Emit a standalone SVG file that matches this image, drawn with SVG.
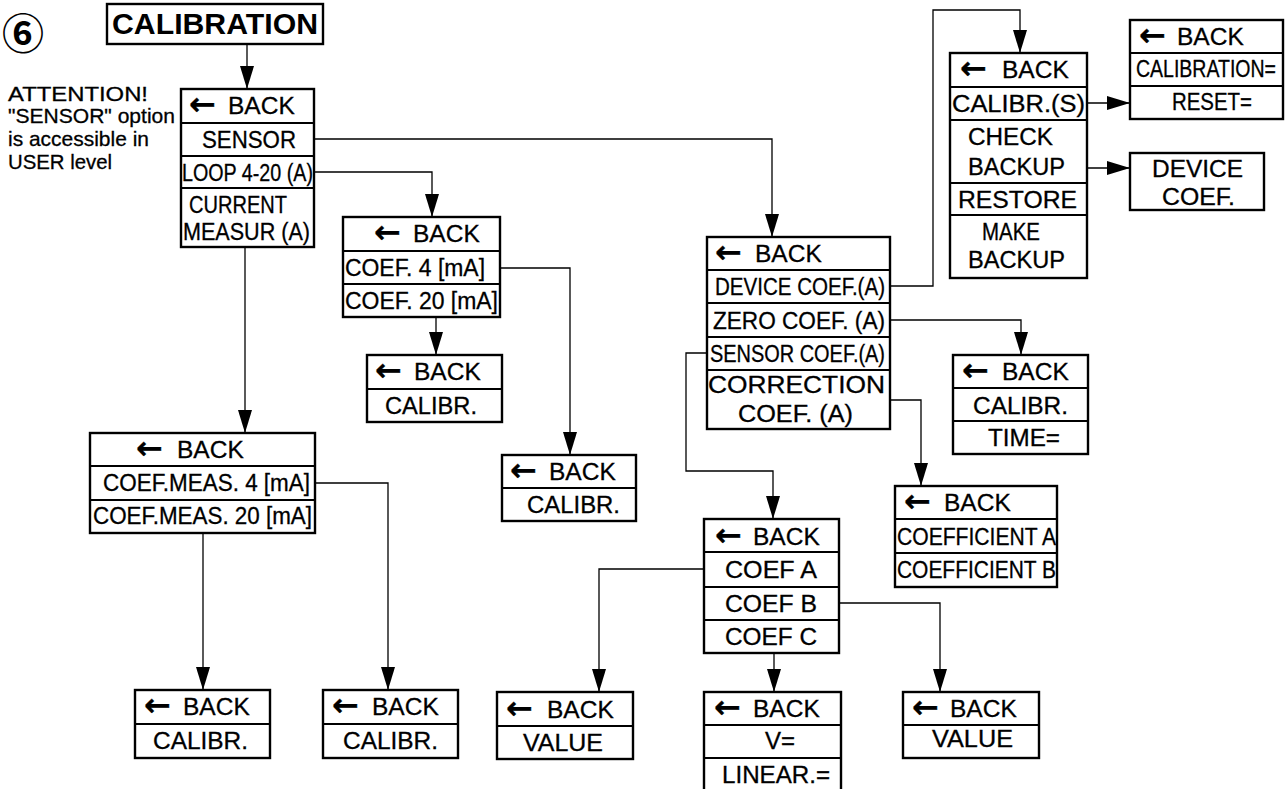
<svg xmlns="http://www.w3.org/2000/svg" width="1287" height="789" viewBox="0 0 1287 789">
<style>
  .box{fill:#fff;stroke:#000;stroke-width:2.4}
  .sep{stroke:#000;stroke-width:2}
  .t{font-family:"Liberation Sans",Arial,sans-serif;font-size:23.5px;fill:#000;stroke:#000;stroke-width:0.3}
  .b{font-family:"Liberation Sans",Arial,sans-serif;font-size:24.5px;fill:#000;stroke:#000;stroke-width:0.3}
  .ar{font-family:"DejaVu Sans",sans-serif;font-weight:bold;font-size:32px}
  .note{font-family:"Liberation Sans",Arial,sans-serif;font-size:21px;fill:#000;stroke:#000;stroke-width:0.3}
  .con{fill:none;stroke:#000;stroke-width:1.3}
</style>
<defs>
  <marker id="ah" markerUnits="userSpaceOnUse" markerWidth="24" markerHeight="16" refX="23" refY="7" orient="auto">
    <path d="M0,0 L23,7 L0,14 z" fill="#000"/>
  </marker>
</defs>
<rect width="1287" height="789" fill="#fff"/>

<g id="header">
  <text x="23" y="49" text-anchor="middle" font-family="Noto Sans CJK JP,DejaVu Sans,sans-serif" font-weight="bold" font-size="42">⑥</text>
  <text class="note" x="8" y="101" textLength="140" lengthAdjust="spacingAndGlyphs">ATTENTION!</text>
  <text class="note" x="8" y="123" textLength="167" lengthAdjust="spacingAndGlyphs">"SENSOR" option</text>
  <text class="note" x="8" y="146" textLength="141" lengthAdjust="spacingAndGlyphs">is accessible in</text>
  <text class="note" x="8" y="169" textLength="104" lengthAdjust="spacingAndGlyphs">USER level</text>
</g>

<g id="connectors">
  <path class="con" d="M247,44 V89" marker-end="url(#ah)"/>
  <path class="con" d="M314,139 H772 V237" marker-end="url(#ah)"/>
  <path class="con" d="M314,172 H432 V217" marker-end="url(#ah)"/>
  <path class="con" d="M245,247 V433" marker-end="url(#ah)"/>
  <path class="con" d="M436,317 V355" marker-end="url(#ah)"/>
  <path class="con" d="M500,268 H570 V455" marker-end="url(#ah)"/>
  <path class="con" d="M315,483 H388 V690" marker-end="url(#ah)"/>
  <path class="con" d="M203,533 V690" marker-end="url(#ah)"/>
  <path class="con" d="M890,286 H933 V10 H1020 V53" marker-end="url(#ah)"/>
  <path class="con" d="M1087,103 H1130" marker-end="url(#ah)"/>
  <path class="con" d="M1087,168 H1130" marker-end="url(#ah)"/>
  <path class="con" d="M890,320 H1021 V355" marker-end="url(#ah)"/>
  <path class="con" d="M707,353 H686 V471 H773 V519" marker-end="url(#ah)"/>
  <path class="con" d="M890,400 H921 V486" marker-end="url(#ah)"/>
  <path class="con" d="M704,569 H599 V692" marker-end="url(#ah)"/>
  <path class="con" d="M839,603 H940 V692" marker-end="url(#ah)"/>
  <path class="con" d="M774,653 V692" marker-end="url(#ah)"/>
</g>

<g id="title">
  <rect class="box" x="107" y="4" width="216" height="40" stroke-width="2.8"/>
  <text x="112" y="34" font-family="Liberation Sans,Arial,sans-serif" font-weight="bold" font-size="29" textLength="206" lengthAdjust="spacingAndGlyphs">CALIBRATION</text>
</g>

<g id="main-menu">
  <rect class="box" x="181" y="89" width="133" height="158"/>
  <path class="sep" d="M181,123 H314 M181,156 H314 M181,188 H314"/>
  <text class="b" x="189" y="115"><tspan class="ar">←</tspan><tspan x="228" y="114">BACK</tspan></text>
  <text class="t" x="202" y="148" textLength="94" lengthAdjust="spacingAndGlyphs">SENSOR</text>
  <text class="t" x="182" y="181" textLength="131" lengthAdjust="spacingAndGlyphs">LOOP 4-20 (A)</text>
  <text class="t" x="189" y="213" textLength="98" lengthAdjust="spacingAndGlyphs">CURRENT</text>
  <text class="t" x="183" y="240" textLength="127" lengthAdjust="spacingAndGlyphs">MEASUR (A)</text>
</g>

<g id="loop-menu">
  <rect class="box" x="343" y="217" width="157" height="100"/>
  <path class="sep" d="M343,251 H500 M343,284 H500"/>
  <text class="b" x="374" y="243"><tspan class="ar">←</tspan><tspan x="413" y="242">BACK</tspan></text>
  <text class="t" x="345" y="276" textLength="140" lengthAdjust="spacingAndGlyphs">COEF. 4 [mA]</text>
  <text class="t" x="345" y="309" textLength="153" lengthAdjust="spacingAndGlyphs">COEF. 20 [mA]</text>
</g>

<g id="loop-calibr-20">
  <rect class="box" x="367" y="355" width="135" height="67"/>
  <path class="sep" d="M367,389 H502"/>
  <text class="b" x="375" y="381"><tspan class="ar">←</tspan><tspan x="414" y="380">BACK</tspan></text>
  <text class="t" x="385" y="414" textLength="92" lengthAdjust="spacingAndGlyphs">CALIBR.</text>
</g>

<g id="loop-calibr-4">
  <rect class="box" x="502" y="455" width="134" height="66"/>
  <path class="sep" d="M502,488 H636"/>
  <text class="b" x="510" y="481"><tspan class="ar">←</tspan><tspan x="549" y="480">BACK</tspan></text>
  <text class="t" x="527" y="513" textLength="93" lengthAdjust="spacingAndGlyphs">CALIBR.</text>
</g>

<g id="current-menu">
  <rect class="box" x="90" y="433" width="225" height="100"/>
  <path class="sep" d="M90,466 H315 M90,500 H315"/>
  <text class="b" x="136" y="459"><tspan class="ar">←</tspan><tspan x="177" y="458">BACK</tspan></text>
  <text class="t" x="103" y="491" textLength="207" lengthAdjust="spacingAndGlyphs">COEF.MEAS. 4 [mA]</text>
  <text class="t" x="93" y="524" textLength="219" lengthAdjust="spacingAndGlyphs">COEF.MEAS. 20 [mA]</text>
</g>

<g id="current-calibr-20">
  <rect class="box" x="135" y="690" width="135" height="68"/>
  <path class="sep" d="M135,724 H270"/>
  <text class="b" x="144" y="716"><tspan class="ar">←</tspan><tspan x="183" y="715">BACK</tspan></text>
  <text class="t" x="153" y="749" textLength="95" lengthAdjust="spacingAndGlyphs">CALIBR.</text>
</g>

<g id="current-calibr-4">
  <rect class="box" x="323" y="690" width="135" height="68"/>
  <path class="sep" d="M323,724 H458"/>
  <text class="b" x="332" y="716"><tspan class="ar">←</tspan><tspan x="372" y="715">BACK</tspan></text>
  <text class="t" x="343" y="749" textLength="95" lengthAdjust="spacingAndGlyphs">CALIBR.</text>
</g>

<g id="sensor-menu">
  <rect class="box" x="707" y="237" width="183" height="192"/>
  <path class="sep" d="M707,270 H890 M707,303 H890 M707,337 H890 M707,370 H890"/>
  <text class="b" x="715" y="263"><tspan class="ar">←</tspan><tspan x="755" y="262">BACK</tspan></text>
  <text class="t" x="715" y="295" textLength="170" lengthAdjust="spacingAndGlyphs">DEVICE COEF.(A)</text>
  <text class="t" x="713" y="329" textLength="172" lengthAdjust="spacingAndGlyphs">ZERO COEF. (A)</text>
  <text class="t" x="710" y="362" textLength="175" lengthAdjust="spacingAndGlyphs">SENSOR COEF.(A)</text>
  <text class="t" x="708" y="393" textLength="177" lengthAdjust="spacingAndGlyphs" font-size="25">CORRECTION</text>
  <text class="t" x="738" y="422" textLength="115" lengthAdjust="spacingAndGlyphs" font-size="25">COEF. (A)</text>
</g>

<g id="device-coef-menu">
  <rect class="box" x="950" y="53" width="137" height="225"/>
  <path class="sep" d="M950,87 H1087 M950,120 H1087 M950,183 H1087 M950,215 H1087"/>
  <text class="b" x="960" y="79"><tspan class="ar">←</tspan><tspan x="1002" y="78">BACK</tspan></text>
  <text class="t" x="952" y="112" textLength="133" lengthAdjust="spacingAndGlyphs">CALIBR.(S)</text>
  <text class="t" x="968" y="145" textLength="85" lengthAdjust="spacingAndGlyphs">CHECK</text>
  <text class="t" x="968" y="175" textLength="97" lengthAdjust="spacingAndGlyphs">BACKUP</text>
  <text class="t" x="958" y="208" textLength="119" lengthAdjust="spacingAndGlyphs">RESTORE</text>
  <text class="t" x="982" y="240" textLength="58" lengthAdjust="spacingAndGlyphs">MAKE</text>
  <text class="t" x="968" y="268" textLength="97" lengthAdjust="spacingAndGlyphs">BACKUP</text>
</g>

<g id="calibration-reset">
  <rect class="box" x="1130" y="20" width="153" height="99"/>
  <path class="sep" d="M1130,53 H1283 M1130,86 H1283"/>
  <text class="b" x="1139" y="46"><tspan class="ar">←</tspan><tspan x="1177" y="45">BACK</tspan></text>
  <text class="t" x="1136" y="77" font-size="19.5" textLength="140" lengthAdjust="spacingAndGlyphs">CALIBRATION=</text>
  <text class="t" x="1172" y="110" textLength="80" lengthAdjust="spacingAndGlyphs">RESET=</text>
</g>

<g id="device-coef-box">
  <rect class="box" x="1130" y="153" width="134" height="57"/>
  <text class="t" x="1152" y="177" textLength="91" lengthAdjust="spacingAndGlyphs">DEVICE</text>
  <text class="t" x="1162" y="205" textLength="73" lengthAdjust="spacingAndGlyphs">COEF.</text>
</g>

<g id="zero-coef">
  <rect class="box" x="953" y="355" width="135" height="99"/>
  <path class="sep" d="M953,388 H1088 M953,421 H1088"/>
  <text class="b" x="962" y="381"><tspan class="ar">←</tspan><tspan x="1002" y="380">BACK</tspan></text>
  <text class="t" x="973" y="414" textLength="95" lengthAdjust="spacingAndGlyphs">CALIBR.</text>
  <text class="t" x="988" y="446" textLength="72" lengthAdjust="spacingAndGlyphs">TIME=</text>
</g>

<g id="correction-coef">
  <rect class="box" x="895" y="486" width="162" height="101"/>
  <path class="sep" d="M895,519 H1057 M895,553 H1057"/>
  <text class="b" x="904" y="512"><tspan class="ar">←</tspan><tspan x="944" y="511">BACK</tspan></text>
  <text class="t" x="897" y="545" textLength="159" lengthAdjust="spacingAndGlyphs">COEFFICIENT A</text>
  <text class="t" x="897" y="578" textLength="159" lengthAdjust="spacingAndGlyphs">COEFFICIENT B</text>
</g>

<g id="sensor-coef">
  <rect class="box" x="704" y="519" width="135" height="134"/>
  <path class="sep" d="M704,552 H839 M704,587 H839 M704,620 H839"/>
  <text class="b" x="715" y="546"><tspan class="ar">←</tspan><tspan x="753" y="545">BACK</tspan></text>
  <text class="t" x="725" y="578" textLength="92" lengthAdjust="spacingAndGlyphs">COEF A</text>
  <text class="t" x="725" y="612" textLength="92" lengthAdjust="spacingAndGlyphs">COEF B</text>
  <text class="t" x="725" y="645" textLength="92" lengthAdjust="spacingAndGlyphs">COEF C</text>
</g>

<g id="coef-a-value">
  <rect class="box" x="497" y="692" width="136" height="67"/>
  <path class="sep" d="M497,726 H633"/>
  <text class="b" x="506" y="719"><tspan class="ar">←</tspan><tspan x="547" y="718">BACK</tspan></text>
  <text class="t" x="523" y="751" textLength="80" lengthAdjust="spacingAndGlyphs">VALUE</text>
</g>

<g id="coef-c-linear">
  <rect class="box" x="704" y="692" width="137" height="110"/>
  <path class="sep" d="M704,725 H841 M704,758 H841"/>
  <text class="b" x="714" y="718"><tspan class="ar">←</tspan><tspan x="753" y="717">BACK</tspan></text>
  <text class="t" x="765" y="749" textLength="30" lengthAdjust="spacingAndGlyphs">V=</text>
  <text class="t" x="722" y="783" textLength="108" lengthAdjust="spacingAndGlyphs">LINEAR.=</text>
</g>

<g id="coef-b-value">
  <rect class="box" x="903" y="692" width="136" height="66"/>
  <path class="sep" d="M903,725 H1039"/>
  <text class="b" x="912" y="718"><tspan class="ar">←</tspan><tspan x="950" y="717">BACK</tspan></text>
  <text class="t" x="932" y="747" textLength="81" lengthAdjust="spacingAndGlyphs">VALUE</text>
</g>
</svg>
